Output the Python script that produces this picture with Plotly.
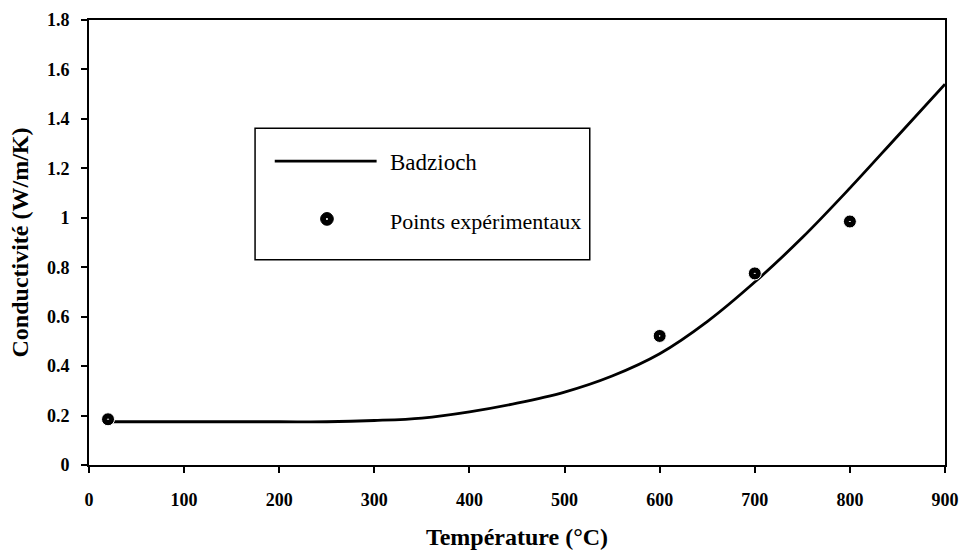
import plotly.graph_objects as go

# Courbe de Badzioch
temp_modele = [20, 100, 200, 250, 300, 350, 400, 450, 500, 550, 600, 650, 700, 750, 800, 850, 900]
cond_modele = [0.175, 0.175, 0.175, 0.175, 0.18, 0.19, 0.215, 0.25, 0.295, 0.36, 0.45, 0.58, 0.74, 0.92, 1.12, 1.33, 1.54]

# Points expérimentaux
temp_exp = [20, 600, 700, 800]
cond_exp = [0.185, 0.522, 0.775, 0.985]

x_ticks = list(range(0, 1000, 100))
y_ticks = [0, 0.2, 0.4, 0.6, 0.8, 1, 1.2, 1.4, 1.6, 1.8]

serif = "Liberation Serif, Times New Roman, serif"

fig = go.Figure()

fig.add_trace(go.Scatter(
    x=temp_modele, y=cond_modele, mode='lines', name='Badzioch',
    line=dict(color='black', width=2.8, shape='spline'),
    showlegend=False
))

fig.add_trace(go.Scatter(
    x=temp_exp, y=cond_exp, mode='markers', name='Points expérimentaux',
    marker=dict(symbol='circle-dot', size=13, color='black', line=dict(color='white', width=1)),
    showlegend=False
))

# Légende dessinée à la main (cadre, trait, marqueur, textes)
fig.add_shape(type='rect', xref='paper', yref='paper', x0=0.194, x1=0.585, y0=0.461, y1=0.757,
              line=dict(color='black', width=1.5), fillcolor='white', layer='below')
fig.add_shape(type='line', xref='paper', yref='paper', x0=0.217, x1=0.336, y0=0.683, y1=0.683,
              line=dict(color='black', width=2.8))
fig.add_shape(type='circle', xref='paper', yref='paper', x0=0.278 - 0.0074, x1=0.278 + 0.0074,
              y0=0.553 - 0.0143, y1=0.553 + 0.0143, fillcolor='black', line=dict(color='black', width=1))
fig.add_shape(type='circle', xref='paper', yref='paper', x0=0.278 - 0.0012, x1=0.278 + 0.0012,
              y0=0.553 - 0.0023, y1=0.553 + 0.0023, fillcolor='white', line=dict(color='white', width=0))
fig.add_annotation(x=0.349, y=0.679, xref='paper', yref='paper', text='Badzioch', showarrow=False,
                   xanchor='left', yanchor='middle', font=dict(family=serif, size=23, color='black'))
fig.add_annotation(x=0.349, y=0.548, xref='paper', yref='paper', text='Points expérimentaux', showarrow=False,
                   xanchor='left', yanchor='middle', font=dict(family=serif, size=22, color='black'))

fig.update_layout(
    width=960, height=550,
    margin=dict(l=89, r=15, t=20, b=85),
    plot_bgcolor='white', paper_bgcolor='white',
    font=dict(family=serif, color='black'),
)

fig.update_xaxes(
    range=[0, 900], tickvals=x_ticks, showgrid=False, zeroline=False, automargin=False,
    showline=True, linecolor='black', linewidth=2, mirror=True, ticklabeloverflow='allow',
    ticks='outside', ticklen=6, tickwidth=1.5, tickcolor='black', ticklabelstandoff=11,
    tickfont=dict(family=serif, size=18, weight='bold'),
    title=dict(text='Température (°C)', font=dict(family=serif, size=24, weight='bold'), standoff=24),
)
fig.update_yaxes(
    range=[0, 1.8], tickvals=y_ticks, showgrid=False, zeroline=False, automargin=False,
    showline=True, linecolor='black', linewidth=2, mirror=True,
    ticks='outside', ticklen=6, tickwidth=1.5, tickcolor='black', ticklabelstandoff=8,
    tickfont=dict(family=serif, size=18, weight='bold'),
    title=dict(text='Conductivité (W/m/K)', font=dict(family=serif, size=24, weight='bold'), standoff=12),
)

fig.write_html("out.html", config={'displayModeBar': False})

# supprime la marge par défaut de la page pour que la figure occupe toute la fenêtre
with open("out.html", encoding="utf-8") as f:
    page = f.read()
page = page.replace("<head>", "<head><style>body{margin:0;overflow:hidden}</style>", 1)
with open("out.html", "w", encoding="utf-8") as f:
    f.write(page)
